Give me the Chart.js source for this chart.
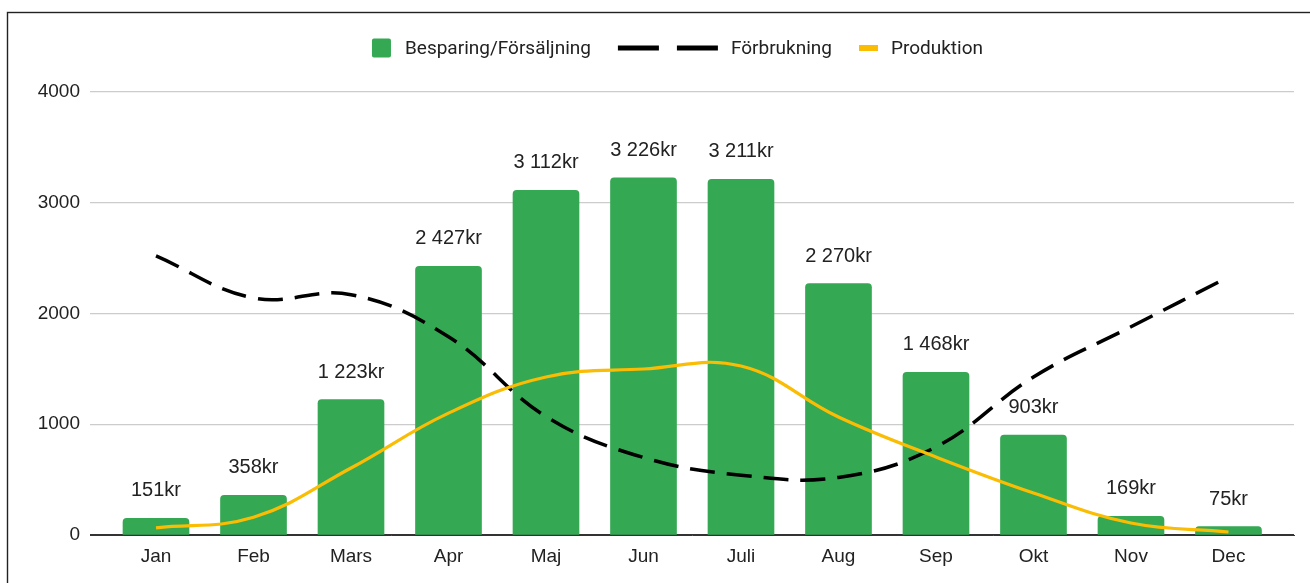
<!DOCTYPE html>
<html>
<head>
<meta charset="utf-8">
<script src="https://cdn.jsdelivr.net/npm/chart.js@4/dist/chart.umd.min.js"></script>
<style>
  html, body { margin: 0; padding: 0; background: #fff; }
  #c { display: block; }
</style>
</head>
<body>
<canvas id="c" width="1310" height="583"></canvas>
<script>
const months = ['Jan', 'Feb', 'Mars', 'Apr', 'Maj', 'Jun', 'Juli', 'Aug', 'Sep', 'Okt', 'Nov', 'Dec'];
const savings = [151, 358, 1223, 2427, 3112, 3226, 3211, 2270, 1468, 903, 169, 75];
const consumption = [2520, 2140, 2170, 1790, 1070, 700, 540, 520, 795, 1427, 1880, 2330];
const production = [65, 160, 605, 1100, 1427, 1499, 1526, 1065, 704, 379, 108, 27];
const seriesNames = ['Besparing/Försäljning', 'Förbrukning', 'Produktion'];
const yTicks = [0, 1000, 2000, 3000, 4000];
const currencySuffix = 'kr';

const GREEN = '#34a853', YELLOW = '#fbbc04', BLACK = '#000000', TEXT = '#222222';
const TICK_FONT = '"Liberation Sans", Arial, sans-serif';
const LEGEND_FONT = 'Roboto, "Noto Sans", sans-serif';

function fmt(v) { return String(v).replace(/\B(?=(\d{3})+(?!\d))/g, ' '); }
const pts = arr => arr.map((v, i) => ({ x: i, y: v }));

const frame = {
  id: 'frame',
  beforeDraw(chart) {
    const ctx = chart.ctx;
    ctx.save();
    ctx.fillStyle = '#fff';
    ctx.fillRect(0, 0, chart.width, chart.height);
    ctx.strokeStyle = '#222';
    ctx.lineWidth = 1.4;
    ctx.strokeRect(7.5, 12.5, chart.width + 20, chart.height + 20);
    ctx.restore();
  }
};

const barLabels = {
  id: 'barLabels',
  afterDatasetsDraw(chart) {
    const ctx = chart.ctx;
    const meta = chart.getDatasetMeta(0);
    ctx.save();
    ctx.font = '20px ' + TICK_FONT;
    ctx.fillStyle = TEXT;
    ctx.textAlign = 'center';
    ctx.textBaseline = 'alphabetic';
    meta.data.forEach((bar, i) => {
      ctx.fillText(fmt(savings[i]) + currencySuffix, bar.x, bar.y - 22);
    });
    ctx.restore();
  }
};

const customLegend = {
  id: 'customLegend',
  afterDraw(chart) {
    const ctx = chart.ctx;
    ctx.save();
    ctx.font = '19px ' + LEGEND_FONT;
    ctx.textBaseline = 'middle';
    ctx.textAlign = 'left';
    const icons = [19, 100, 19];
    const gapIconText = [14, 13, 13];
    const gapItems = 27;
    const widths = seriesNames.map(n => ctx.measureText(n).width);
    let total = 0;
    for (let i = 0; i < 3; i++) total += icons[i] + gapIconText[i] + widths[i] + (i < 2 ? gapItems : 0);
    let x = 677.5 - total / 2;
    const cy = 48;
    for (let i = 0; i < 3; i++) {
      if (i === 0) {
        ctx.fillStyle = GREEN;
        ctx.beginPath();
        ctx.roundRect(x, cy - 9.5, 19, 19, 2);
        ctx.fill();
      } else if (i === 1) {
        ctx.fillStyle = BLACK;
        ctx.fillRect(x, cy - 2.5, 41, 5);
        ctx.fillRect(x + 59, cy - 2.5, 41, 5);
      } else {
        ctx.fillStyle = YELLOW;
        ctx.fillRect(x, cy - 3, 19, 6);
      }
      x += icons[i] + gapIconText[i];
      ctx.fillStyle = TEXT;
      ctx.fillText(seriesNames[i], x, cy + 1);
      x += widths[i] + gapItems;
    }
    ctx.restore();
  }
};

new Chart(document.getElementById('c'), {
  data: {
    datasets: [
      {
        type: 'bar',
        label: seriesNames[0],
        data: pts(savings),
        backgroundColor: GREEN,
        barThickness: 66,
        borderRadius: 4,
        borderSkipped: 'start',
        order: 3
      },
      {
        type: 'line',
        label: seriesNames[1],
        data: pts(consumption),
        borderColor: BLACK,
        borderWidth: 3.5,
        borderDash: [25, 12],
        tension: 0.4,
        pointRadius: 0,
        fill: false,
        order: 2
      },
      {
        type: 'line',
        label: seriesNames[2],
        data: pts(production),
        borderColor: YELLOW,
        borderWidth: 3.2,
        tension: 0.4,
        pointRadius: 0,
        fill: false,
        order: 1
      }
    ]
  },
  options: {
    responsive: false,
    devicePixelRatio: 1,
    animation: false,
    layout: { padding: { left: 0, right: 16, top: 92, bottom: 0 } },
    plugins: {
      legend: { display: false },
      tooltip: { enabled: false },
      title: { display: false }
    },
    scales: {
      x: {
        type: 'linear',
        offset: false,
        min: -0.677,
        max: 11.672,
        afterFit(scale) { scale.height = 48; },
        afterBuildTicks(scale) { scale.ticks = months.map((_, i) => ({ value: i })); },
        ticks: {
          autoSkip: false,
          maxRotation: 0,
          padding: 10,
          color: TEXT,
          font: { family: TICK_FONT, size: 19 },
          callback: v => months[v]
        },
        grid: { display: false, drawTicks: false, offset: false },
        border: { display: true, color: '#333', width: 1 }
      },
      y: {
        min: 0,
        max: 4000,
        afterFit(scale) { scale.width = 90; },
        afterBuildTicks(scale) { scale.ticks = yTicks.map(v => ({ value: v })); },
        ticks: {
          padding: 10,
          color: TEXT,
          font: { family: TICK_FONT, size: 19 },
          callback: v => String(v)
        },
        grid: {
          drawTicks: false,
          color: ctx => (ctx.tick && ctx.tick.value === 0) ? '#333' : '#cccccc',
          lineWidth: 1.3
        },
        border: { display: false }
      }
    }
  },
  plugins: [frame, barLabels, customLegend]
});
</script>
</body>
</html>
